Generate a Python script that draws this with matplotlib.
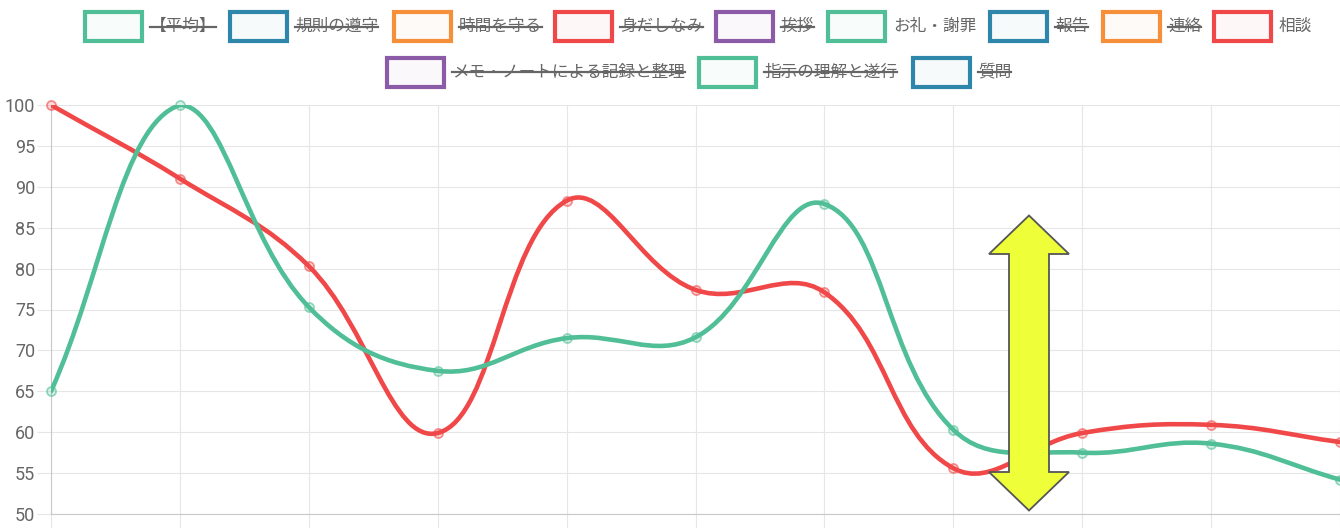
import numpy as np
import matplotlib.pyplot as plt
from matplotlib.path import Path
from matplotlib.patches import PathPatch, Rectangle, Polygon
from matplotlib.lines import Line2D

plt.rcParams['font.family'] = ['Noto Sans CJK JP', 'DejaVu Sans']

# data (index 10 lies just past the cropped right edge)
x_idx = list(range(11))
orei_shazai = [65, 100, 75.3, 67.5, 71.5, 71.6, 87.9, 60.3, 57.5, 58.6, 54.2]
soudan = [100, 91, 80.3, 59.9, 88.3, 77.4, 77.1, 55.6, 59.9, 60.9, 58.8]

legend_names = ['【平均】', '規則の遵守', '時間を守る', '身だしなみ', '挨拶', 'お礼・謝罪',
                '報告', '連絡', '相談', 'メモ・ノートによる記録と整理', '指示の理解と遂行', '質問']
legend_hidden = [True, True, True, True, True, False, True, True, False, True, True, True]

GREEN = '#50be96'
BLUE = '#2e86ab'
ORANGE = '#f58f3a'
RED = '#f04848'
PURPLE = '#8c5ba8'
legend_colors = [GREEN, BLUE, ORANGE, RED, PURPLE, GREEN, BLUE, ORANGE, RED, PURPLE, GREEN, BLUE]

W, H = 1340, 528
SX, SY = 129.6, 8.18  # pixels per x step / per y unit


def fx(x):
    return x / W


def fy(y):
    return 1 - y / H


def spline_path(xs, ys, t=0.4, ylo=50, yhi=100):
    # bezier curve like chart.js default line tension
    n = len(xs)
    cps = []
    for i in range(n):
        j0, j1 = max(i - 1, 0), min(i + 1, n - 1)
        px, py = xs[j0], ys[j0]
        cx, cy = xs[i], ys[i]
        nx, ny = xs[j1], ys[j1]
        d01 = np.hypot((cx - px) * SX, (cy - py) * SY)
        d12 = np.hypot((nx - cx) * SX, (ny - cy) * SY)
        tot = d01 + d12
        s01 = d01 / tot if tot else 0
        s12 = d12 / tot if tot else 0
        fa, fb = t * s01, t * s12
        prev_cp = [cx - fa * (nx - px), cy - fa * (ny - py)]
        next_cp = [cx + fb * (nx - px), cy + fb * (ny - py)]
        prev_cp[1] = min(max(prev_cp[1], ylo), yhi)
        next_cp[1] = min(max(next_cp[1], ylo), yhi)
        cps.append((prev_cp, next_cp))
    verts = [(xs[0], ys[0])]
    codes = [Path.MOVETO]
    for i in range(1, n):
        verts += [tuple(cps[i - 1][1]), tuple(cps[i][0]), (xs[i], ys[i])]
        codes += [Path.CURVE4] * 3
    return Path(verts, codes)


fig = plt.figure(figsize=(W / 100, H / 100), dpi=100)
ax = fig.add_axes([fx(51), fy(514), (W - 51) / W, 409 / H])

ax.set_xlim(0, (W - 51) / SX)
ax.set_ylim(50, 100)
ax.set_xticks(x_idx)
ax.set_yticks(np.arange(50, 101, 5))
ax.set_axisbelow(True)
ax.grid(color='#e6e6e6', lw=0.8)
for s in ['top', 'right']:
    ax.spines[s].set_visible(False)
for s in ['left', 'bottom']:
    ax.spines[s].set_color('#c8c8c8')
    ax.spines[s].set_linewidth(0.8)
ax.tick_params(axis='x', length=11, width=0.8, color='#e6e6e6', labelbottom=False)
ax.tick_params(axis='y', length=10, width=0.8, color='#e6e6e6', pad=1.5,
               labelcolor='#666666', labelsize=13, labelfontfamily='Roboto')

# red first, green on top
for vals, col in [(soudan, RED), (orei_shazai, GREEN)]:
    ax.add_patch(PathPatch(spline_path(x_idx, vals), fill=False, edgecolor=col,
                           lw=3.3, capstyle='round', joinstyle='round', zorder=3))
    ax.plot(x_idx, vals, 'o', ms=6.5, mfc=col + '30', mec=col + '99', mew=1.3,
            zorder=4, clip_on=False)

# legend, drawn by hand like the chart.js one
row1 = [83, 228, 392, 553, 714, 826, 988, 1101, 1212]
row2 = [385, 697, 911]
lefts = [(x, 26.5) for x in row1] + [(x, 72) for x in row2]
texts = []
for (bx, cy), name, col, hid in zip(lefts, legend_names, legend_colors, legend_hidden):
    fig.add_artist(Rectangle((fx(bx + 2), fy(cy + 14.5)), 57 / W, 29 / H,
                             transform=fig.transFigure, facecolor=col + '0a',
                             edgecolor=col, lw=3))
    t = fig.text(fx(bx + 67), fy(cy), name, ha='left', va='center',
                 fontsize=12, color='#666666')
    texts.append((t, hid))

fig.canvas.draw()
inv = fig.transFigure.inverted()
for t, hid in texts:
    if not hid:
        continue
    bb = t.get_window_extent()
    (x0, y0), (x1, y1) = inv.transform([(bb.x0, bb.y0), (bb.x1, bb.y1)])
    ym = (y0 + y1) / 2
    fig.add_artist(Line2D([x0, x1], [ym, ym], transform=fig.transFigure,
                          color='#666666', lw=1.6))

# yellow double arrow
arrow_pts = [(1029, 215.5), (1069, 254), (1049, 254), (1049, 472), (1069, 472),
             (1029, 510.5), (989, 472), (1009, 472), (1009, 254), (989, 254)]
fig.add_artist(Polygon([(fx(x), fy(y)) for x, y in arrow_pts], closed=True,
                       transform=fig.transFigure, facecolor='#eeff3a',
                       edgecolor='#555555', lw=1.3, zorder=10))

fig.savefig('out.png', dpi=100)
